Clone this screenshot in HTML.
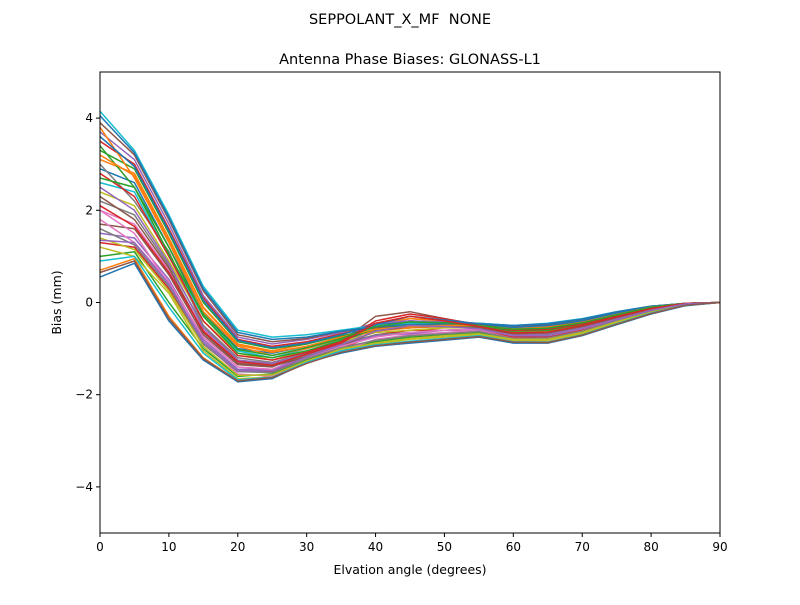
<!DOCTYPE html>
<html><head><meta charset="utf-8"><style>
body{margin:0;background:#fff;font-family:"Liberation Sans","DejaVu Sans",sans-serif}
svg text{font-family:"DejaVu Sans","Liberation Sans",sans-serif}
</style></head><body>
<svg id="chart" width="800" height="600" xmlns="http://www.w3.org/2000/svg">
<rect width="800" height="600" fill="#fff"/>
<text x="400" y="24" font-size="14.5" text-anchor="middle" style="white-space:pre">SEPPOLANT_X_MF&#160; NONE</text>
<text x="410" y="64" font-size="14.5" text-anchor="middle">Antenna Phase Biases: GLONASS-L1</text>
<g id="lines"></g>
<g id="axes"></g>
<text x="410" y="574" font-size="12.5" text-anchor="middle">Elvation angle (degrees)</text>
<text transform="translate(61,302.5) rotate(-90)" font-size="12.5" text-anchor="middle">Bias (mm)</text>
</svg>
<script>
const elevations=[0,5,10,15,20,25,30,35,40,45,50,55,60,65,70,75,80,85,90];
const xTicks=[0,10,20,30,40,50,60,70,80,90];
const yTicks=[-4,-2,0,2,4];
const yTickLabels=["\u22124","\u22122","0","2","4"];
const series=[
[0.55,0.85,-0.4,-1.25,-1.72,-1.65,-1.3,-1.1,-0.95,-0.88,-0.82,-0.75,-0.88,-0.88,-0.72,-0.48,-0.25,-0.07,0],
[0.7,0.95,-0.3,-1.2,-1.7,-1.6,-1.3,-1.05,-0.9,-0.85,-0.8,-0.72,-0.85,-0.85,-0.7,-0.45,-0.22,-0.05,0],
[1.0,1.1,0.0,-1.0,-1.6,-1.55,-1.25,-1.0,-0.85,-0.75,-0.7,-0.65,-0.8,-0.8,-0.65,-0.42,-0.2,-0.05,0],
[1.3,1.2,0.3,-0.9,-1.5,-1.5,-1.2,-1.0,-0.7,-0.6,-0.6,-0.6,-0.75,-0.75,-0.6,-0.4,-0.2,-0.04,0],
[1.5,1.4,0.5,-0.8,-1.45,-1.45,-1.15,-0.9,-0.55,-0.4,-0.45,-0.55,-0.7,-0.7,-0.55,-0.35,-0.15,-0.03,0],
[1.7,1.6,0.6,-0.7,-1.35,-1.4,-1.1,-0.85,-0.3,-0.2,-0.35,-0.5,-0.65,-0.65,-0.5,-0.3,-0.12,-0.02,0],
[2.0,1.7,0.7,-0.6,-1.3,-1.35,-1.15,-0.95,-0.6,-0.5,-0.5,-0.55,-0.7,-0.68,-0.55,-0.35,-0.15,-0.03,0],
[2.2,1.9,0.8,-0.5,-1.2,-1.3,-1.1,-0.9,-0.5,-0.35,-0.4,-0.5,-0.6,-0.6,-0.5,-0.3,-0.12,-0.02,0],
[2.4,2.1,0.9,-0.4,-1.1,-1.25,-1.05,-0.85,-0.65,-0.6,-0.55,-0.55,-0.65,-0.62,-0.5,-0.32,-0.12,-0.02,0],
[2.6,2.4,1.0,-0.3,-1.05,-1.2,-1.0,-0.8,-0.55,-0.45,-0.45,-0.5,-0.6,-0.58,-0.45,-0.28,-0.1,-0.02,0],
[2.9,2.6,1.2,-0.2,-1.0,-1.1,-0.95,-0.75,-0.5,-0.4,-0.45,-0.5,-0.55,-0.55,-0.42,-0.25,-0.1,-0.02,0],
[3.1,2.8,1.4,-0.1,-0.9,-1.05,-0.9,-0.7,-0.45,-0.35,-0.4,-0.48,-0.55,-0.52,-0.4,-0.24,-0.09,-0.02,0],
[3.3,2.9,1.5,0.0,-0.85,-1.0,-0.9,-0.72,-0.6,-0.55,-0.5,-0.5,-0.58,-0.55,-0.42,-0.25,-0.1,-0.02,0],
[3.5,3.0,1.6,0.1,-0.8,-0.95,-0.85,-0.68,-0.5,-0.45,-0.45,-0.48,-0.52,-0.5,-0.4,-0.22,-0.09,-0.02,0],
[3.7,3.1,1.7,0.15,-0.75,-0.9,-0.8,-0.65,-0.45,-0.4,-0.42,-0.45,-0.5,-0.48,-0.38,-0.22,-0.08,-0.02,0],
[3.9,3.2,1.8,0.25,-0.7,-0.85,-0.78,-0.62,-0.55,-0.5,-0.48,-0.47,-0.52,-0.48,-0.37,-0.21,-0.08,-0.02,0],
[2.0,1.5,0.4,-0.85,-1.55,-1.6,-1.3,-1.05,-0.8,-0.7,-0.65,-0.6,-0.78,-0.78,-0.62,-0.4,-0.2,-0.04,0],
[3.0,2.2,1.1,-0.5,-1.25,-1.35,-1.15,-0.9,-0.7,-0.65,-0.6,-0.58,-0.7,-0.7,-0.55,-0.35,-0.15,-0.03,0],
[1.2,1.0,0.2,-1.05,-1.65,-1.62,-1.3,-1.0,-0.9,-0.8,-0.75,-0.7,-0.82,-0.82,-0.68,-0.44,-0.22,-0.05,0],
[4.15,3.3,1.9,0.35,-0.6,-0.75,-0.7,-0.6,-0.5,-0.45,-0.45,-0.45,-0.5,-0.45,-0.35,-0.2,-0.08,-0.02,0],
[4.05,3.25,1.85,0.3,-0.65,-0.8,-0.75,-0.62,-0.52,-0.48,-0.46,-0.46,-0.5,-0.46,-0.36,-0.2,-0.08,-0.02,0],
[3.8,2.7,1.3,-0.2,-0.95,-1.15,-1.0,-0.78,-0.62,-0.55,-0.52,-0.52,-0.6,-0.58,-0.45,-0.28,-0.1,-0.02,0],
[3.4,2.5,1.2,-0.3,-1.1,-1.2,-1.05,-0.82,-0.58,-0.5,-0.5,-0.52,-0.62,-0.6,-0.47,-0.3,-0.12,-0.02,0],
[2.8,2.3,1.0,-0.4,-1.15,-1.25,-1.08,-0.85,-0.4,-0.25,-0.35,-0.48,-0.6,-0.58,-0.46,-0.28,-0.11,-0.02,0],
[2.5,2.0,0.85,-0.55,-1.25,-1.32,-1.12,-0.92,-0.72,-0.68,-0.6,-0.58,-0.7,-0.68,-0.54,-0.34,-0.14,-0.03,0],
[2.3,1.8,0.75,-0.65,-1.32,-1.38,-1.18,-0.95,-0.62,-0.52,-0.52,-0.55,-0.68,-0.66,-0.52,-0.33,-0.14,-0.03,0],
[1.8,1.3,0.45,-0.75,-1.4,-1.45,-1.2,-0.95,-0.75,-0.65,-0.6,-0.58,-0.72,-0.72,-0.57,-0.37,-0.17,-0.03,0],
[1.6,1.25,0.35,-0.9,-1.5,-1.52,-1.22,-0.98,-0.82,-0.72,-0.68,-0.63,-0.78,-0.77,-0.62,-0.4,-0.19,-0.04,0],
[1.4,1.15,0.25,-0.95,-1.58,-1.57,-1.27,-1.02,-0.88,-0.78,-0.72,-0.68,-0.8,-0.8,-0.65,-0.42,-0.21,-0.05,0],
[0.9,1.0,-0.1,-1.1,-1.68,-1.62,-1.3,-1.05,-0.92,-0.84,-0.78,-0.72,-0.85,-0.86,-0.7,-0.46,-0.23,-0.06,0],
[3.6,2.95,1.55,0.05,-0.82,-0.98,-0.88,-0.7,-0.48,-0.3,-0.38,-0.46,-0.54,-0.5,-0.4,-0.23,-0.09,-0.02,0],
[3.2,2.75,1.35,-0.12,-0.92,-1.08,-0.95,-0.75,-0.58,-0.52,-0.5,-0.5,-0.58,-0.55,-0.43,-0.26,-0.1,-0.02,0],
[2.7,2.5,1.05,-0.25,-1.02,-1.15,-0.98,-0.78,-0.52,-0.42,-0.44,-0.5,-0.58,-0.56,-0.44,-0.27,-0.1,-0.02,0],
[2.1,1.65,0.65,-0.62,-1.28,-1.36,-1.12,-0.88,-0.45,-0.3,-0.4,-0.52,-0.66,-0.64,-0.5,-0.31,-0.13,-0.02,0],
[1.35,1.3,0.4,-0.85,-1.48,-1.48,-1.18,-0.92,-0.62,-0.5,-0.52,-0.57,-0.72,-0.72,-0.57,-0.37,-0.17,-0.03,0],
[0.65,0.9,-0.35,-1.22,-1.7,-1.63,-1.32,-1.08,-0.94,-0.86,-0.8,-0.74,-0.86,-0.87,-0.71,-0.47,-0.24,-0.06,0]
];
const colors=["#1f77b4","#ff7f0e","#2ca02c","#d62728","#9467bd","#8c564b","#e377c2","#7f7f7f","#bcbd22","#17becf"];
const X0=100,X1=720,Y0=533,Y1=72;
const xs=v=>X0+(v-0)/(90-0)*(X1-X0);
const ys=v=>Y0-(v-(-5))/(5-(-5))*(Y0-Y1);
const NS="http://www.w3.org/2000/svg";
const lg=document.getElementById('lines');
series.forEach((s,i)=>{
  const p=document.createElementNS(NS,'polyline');
  
  
  p.setAttribute('points',s.map((v,j)=>xs(elevations[j]).toFixed(1)+','+ys(v).toFixed(1)).join(' '));
  p.setAttribute('fill','none');
  p.setAttribute('stroke',colors[i%10]);
  p.setAttribute('stroke-width','1.5');
  lg.appendChild(p);
});
const ax=document.getElementById('axes');
const fr=document.createElementNS(NS,'rect');


fr.setAttribute('x',X0);fr.setAttribute('y',Y1);fr.setAttribute('width',X1-X0);fr.setAttribute('height',Y0-Y1);
fr.setAttribute('fill','none');fr.setAttribute('stroke','#000');fr.setAttribute('stroke-width','1');
ax.appendChild(fr);
xTicks.forEach(t=>{
  const l=document.createElementNS(NS,'line');
  
  
  l.setAttribute('x1',xs(t));l.setAttribute('x2',xs(t));l.setAttribute('y1',Y0);l.setAttribute('y2',Y0+4);
  l.setAttribute('stroke','#000');ax.appendChild(l);
  const tx=document.createElementNS(NS,'text');
  
  
  tx.setAttribute('x',xs(t));tx.setAttribute('y',Y0+18);tx.setAttribute('font-size','12');tx.setAttribute('text-anchor','middle');
  tx.textContent=t;ax.appendChild(tx);
});
yTicks.forEach((t,i)=>{
  const l=document.createElementNS(NS,'line');
  
  
  l.setAttribute('x1',X0-4);l.setAttribute('x2',X0);l.setAttribute('y1',ys(t));l.setAttribute('y2',ys(t));
  l.setAttribute('stroke','#000');ax.appendChild(l);
  const tx=document.createElementNS(NS,'text');
  
  
  tx.setAttribute('x',X0-7);tx.setAttribute('y',ys(t)+4);tx.setAttribute('font-size','12');tx.setAttribute('text-anchor','end');
  tx.textContent=yTickLabels[i];ax.appendChild(tx);
});
</script>
</body></html>
